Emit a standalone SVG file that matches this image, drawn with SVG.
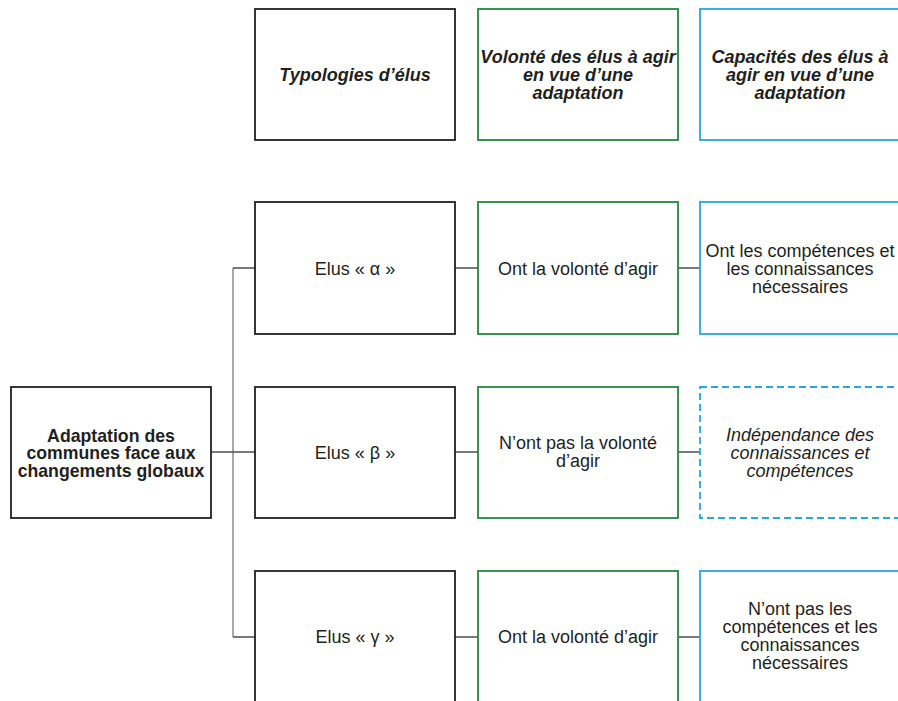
<svg xmlns="http://www.w3.org/2000/svg" width="898" height="701" viewBox="0 0 898 701">
<style>
.bx{fill:#fff;stroke-width:1.8}
.k{stroke:#231f20}
.g{stroke:#23883f}
.b{stroke:#27a6e0}
.d{stroke-dasharray:7 4}
.t{font-family:"Liberation Sans",Arial,sans-serif;font-size:18px;fill:#231f20;text-anchor:middle}
.h{font-weight:bold;font-style:italic}
.r{font-weight:bold;font-size:17.7px}
.i{font-style:italic}
.c{stroke:#4d4d4d;stroke-width:1.3;fill:none}
.v{stroke:#7a7a7a;stroke-width:1.3;fill:none}
</style>
<rect width="898" height="701" fill="#fff"/>
<g id="connectors">
<path class="v" d="M233 268V637"/>
<path class="c" d="M233 268H255M211 452H255M233 637H255"/>
<path class="c" d="M455 268H478M455 452H478M455 637H478"/>
<path class="c" d="M678 268H700M678 452H700M678 637H700"/>
</g>
<g id="header-typologies">
<rect class="bx k" x="255" y="9" width="200" height="131"/>
<text class="t h" x="355" y="81">Typologies d’élus</text>
</g>
<g id="header-volonte">
<rect class="bx g" x="478" y="9" width="200" height="131"/>
<text class="t h" x="578" y="63">Volonté des élus à agir</text>
<text class="t h" x="578" y="81">en vue d’une</text>
<text class="t h" x="578" y="99">adaptation</text>
</g>
<g id="header-capacites">
<rect class="bx b" x="700" y="9" width="200" height="131"/>
<text class="t h" x="800" y="63">Capacités des élus à</text>
<text class="t h" x="800" y="81">agir en vue d’une</text>
<text class="t h" x="800" y="99">adaptation</text>
</g>
<g id="root">
<rect class="bx k" x="11" y="387" width="200" height="131"/>
<text class="t r" x="111" y="441.5">Adaptation des</text>
<text class="t r" x="111" y="459.3">communes face aux</text>
<text class="t r" x="111" y="477">changements globaux</text>
</g>
<g id="elus-alpha">
<rect class="bx k" x="255" y="202" width="200" height="132"/>
<text class="t" x="355" y="275">Elus « α »</text>
</g>
<g id="volonte-alpha">
<rect class="bx g" x="478" y="202" width="200" height="132"/>
<text class="t" x="578" y="275">Ont la volonté d’agir</text>
</g>
<g id="capacite-alpha">
<rect class="bx b" x="700" y="202" width="200" height="132"/>
<text class="t" x="800" y="256.5">Ont les compétences et</text>
<text class="t" x="800" y="274.5">les connaissances</text>
<text class="t" x="800" y="292.5">nécessaires</text>
</g>
<g id="elus-beta">
<rect class="bx k" x="255" y="387" width="200" height="131"/>
<text class="t" x="355" y="459">Elus « β »</text>
</g>
<g id="volonte-beta">
<rect class="bx g" x="478" y="387" width="200" height="131"/>
<text class="t" x="578" y="449.3">N’ont pas la volonté</text>
<text class="t" x="578" y="467.3">d’agir</text>
</g>
<g id="capacite-beta">
<rect class="bx b d" x="700" y="387" width="200" height="131"/>
<text class="t i" x="800" y="440.5">Indépendance des</text>
<text class="t i" x="800" y="458.5">connaissances et</text>
<text class="t i" x="800" y="476.5">compétences</text>
</g>
<g id="elus-gamma">
<rect class="bx k" x="255" y="571" width="200" height="132"/>
<text class="t" x="355" y="643">Elus « γ »</text>
</g>
<g id="volonte-gamma">
<rect class="bx g" x="478" y="571" width="200" height="132"/>
<text class="t" x="578" y="643">Ont la volonté d’agir</text>
</g>
<g id="capacite-gamma">
<rect class="bx b" x="700" y="571" width="200" height="132"/>
<text class="t" x="800" y="615">N’ont pas les</text>
<text class="t" x="800" y="633">compétences et les</text>
<text class="t" x="800" y="651">connaissances</text>
<text class="t" x="800" y="669">nécessaires</text>
</g>
</svg>
